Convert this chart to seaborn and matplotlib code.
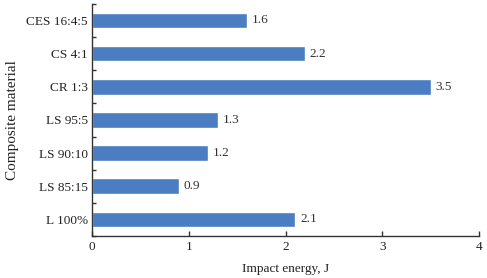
import numpy as np
import pandas as pd
import matplotlib
matplotlib.use("Agg")
import matplotlib.pyplot as plt
import seaborn as sns

# data
materials = ['CES 16:4:5', 'CS 4:1', 'CR 1:3', 'LS 95:5', 'LS 90:10', 'LS 85:15', 'L 100%']
energy = [1.6, 2.2, 3.5, 1.3, 1.2, 0.9, 2.1]

df = pd.DataFrame({'Material': materials, 'Energy': energy})

sns.set_style("white")
plt.rcParams['font.family'] = ['Liberation Serif', 'DejaVu Serif']

fig = plt.figure(figsize=(4.87, 2.78), dpi=100)
ax = fig.add_axes([0.189, 0.151, 0.795, 0.835])
sns.barplot(data=df, x='Energy', y='Material', orient='h', color='#4a7dc1',
            saturation=1, width=0.47, ax=ax)

# value labels
for i, v in enumerate(energy):
    ax.text(v + 0.05, i, f'{v:.1f}', va='center', ha='left', fontsize=9.5, color='#333333')

ax.set_xlim(0, 4)
ax.set_ylim(len(materials) - 0.5, -0.5)
ax.set_xticks([0, 1, 2, 3, 4])
# y ticks sit between categories
ax.set_yticks(np.arange(len(materials) + 1) - 0.5, minor=True)
ax.tick_params(axis='y', which='major', length=0, labelsize=9.5, pad=3, colors='#222222')
ax.tick_params(axis='y', which='minor', direction='in', length=3, width=1, color='#333333', left=True)
ax.tick_params(axis='x', direction='in', length=3.5, width=1, labelsize=9.5, color='#333333',
               bottom=True, labelcolor='#222222')

sns.despine(ax=ax)
for s in ['left', 'bottom']:
    ax.spines[s].set_color('#333333')
    ax.spines[s].set_linewidth(1)

ax.set_xlabel('Impact energy, J', fontsize=9.5, color='#222222', labelpad=7)
ax.set_ylabel('Composite material', fontsize=11, color='#222222', labelpad=5)

fig.savefig('out.png', dpi=100)
plt.close(fig)
